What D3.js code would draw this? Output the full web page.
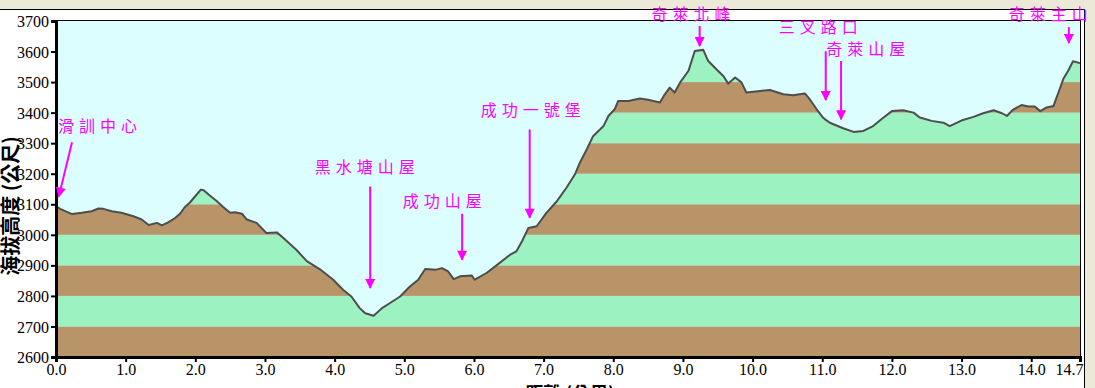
<!DOCTYPE html>
<html>
<head>
<meta charset="utf-8">
<script src="https://cdn.jsdelivr.net/npm/d3@7"></script>
<style>
  body { margin: 0; background: #ece9d8; }
  svg { display: block; }
</style>
</head>
<body>
<div id="chart"></div>
<script>
// distance (km) and elevation (m)
const distance = [0.00, 0.06, 0.23, 0.37, 0.51, 0.61, 0.68, 0.80, 0.94, 1.11, 1.23, 1.33, 1.45, 1.52, 1.61, 1.71, 1.78, 1.85, 1.92, 2.02,
  2.08, 2.12, 2.19, 2.31, 2.40, 2.50, 2.57, 2.67, 2.74, 2.88, 3.02, 3.17, 3.26, 3.45, 3.60, 3.79, 3.98, 4.12, 4.24, 4.36,
  4.44, 4.56, 4.68, 4.79, 4.94, 5.08, 5.20, 5.30, 5.46, 5.54, 5.63, 5.71, 5.80, 5.97, 6.01, 6.18, 6.37, 6.52, 6.61, 6.69,
  6.78, 6.90, 7.04, 7.19, 7.24, 7.33, 7.45, 7.52, 7.62, 7.71, 7.86, 7.93, 8.02, 8.07, 8.22, 8.38, 8.50, 8.67, 8.74, 8.81,
  8.88, 8.96, 9.08, 9.17, 9.29, 9.36, 9.48, 9.58, 9.65, 9.75, 9.84, 9.91, 10.11, 10.25, 10.44, 10.58, 10.75, 10.82, 10.92, 11.01,
  11.04, 11.11, 11.16, 11.30, 11.45, 11.59, 11.73, 11.88, 12.00, 12.16, 12.31, 12.40, 12.57, 12.74, 12.83, 13.02, 13.17, 13.31, 13.46, 13.58,
  13.65, 13.73, 13.86, 13.96, 14.05, 14.13, 14.22, 14.32, 14.39, 14.46, 14.53, 14.60, 14.70];
const elevation = [3093, 3085, 3068, 3072, 3077, 3086, 3085, 3077, 3072, 3061, 3050, 3032, 3039, 3031, 3041, 3055, 3069, 3091, 3105, 3132,
  3148, 3146, 3132, 3110, 3091, 3072, 3074, 3069, 3050, 3039, 3006, 3008, 2990, 2951, 2914, 2887, 2853, 2820, 2798, 2760,
  2743, 2735, 2760, 2776, 2798, 2831, 2853, 2888, 2886, 2891, 2880, 2855, 2864, 2867, 2853, 2875, 2908, 2935, 2946, 2979,
  3022, 3028, 3072, 3110, 3126, 3155, 3198, 3236, 3280, 3323, 3356, 3389, 3411, 3438, 3438, 3446, 3442, 3433, 3460, 3482,
  3466, 3499, 3537, 3602, 3606, 3570, 3542, 3520, 3495, 3515, 3499, 3466, 3471, 3474, 3460, 3457, 3463, 3444, 3411, 3384,
  3378, 3367, 3362, 3349, 3337, 3340, 3356, 3384, 3405, 3408, 3400, 3384, 3373, 3367, 3356, 3376, 3386, 3398, 3408, 3398,
  3389, 3408, 3425, 3420, 3420, 3405, 3417, 3422, 3466, 3510, 3537, 3568, 3562];

const xTicks = [0, 1, 2, 3, 4, 5, 6, 7, 8, 9, 10, 11, 12, 13, 14, 14.7];
const yTicks = [2600, 2700, 2800, 2900, 3000, 3100, 3200, 3300, 3400, 3500, 3600, 3700];

// landmarks: label, arrow distance, arrow start / tip elevation, label distance / elevation
const placeNames = ["滑訓中心", "黑水塘山屋", "成功山屋", "成功一號堡", "奇萊北峰", "三叉路口", "奇萊山屋", "奇萊主山"];
const arrowFromDist = [0.23, 4.51, 5.83, 6.80, 9.24, 11.05, 11.27, 14.54];
const arrowToDist = [0.04, 4.51, 5.83, 6.80, 9.24, 11.05, 11.27, 14.54];
const arrowFromElev = [3303, 3158, 3069, 3345, 3684, 3601, 3569, 3680];
const arrowToElev = [3125, 2826, 2918, 3056, 3618, 3441, 3378, 3628];
const labelDist = [0.03, 4.47, 5.58, 6.85, 9.15, 10.98, 11.66, 14.28];
const labelElev = [3335, 3201, 3092, 3388, 3703, 3661, 3588, 3703];

const width = 1095,
  height = 388;
const plotLeft = 56, plotRight = 1080, plotTop = 21, plotBottom = 357;

const x = d3.scaleLinear().domain([0, 14.7]).range([plotLeft, plotRight]);
const y = d3.scaleLinear().domain([2600, 3700]).range([plotBottom, plotTop]);

const svg = d3
  .select("#chart")
  .append("svg")
  .attr("width", width)
  .attr("height", height);

// window frame
svg.append("rect").attr("width", width).attr("height", height).attr("fill", "#ece9d8");
svg.append("rect").attr("x", 0).attr("y", 9).attr("width", 1085).attr("height", height - 9).attr("fill", "#fff");
svg.append("path").attr("d", "M0,9.5H1084.5V388").attr("fill", "none").attr("stroke", "#000").attr("stroke-width", 1);

const defs = svg.append("defs");
const profile = distance.map((d, i) => [d, elevation[i]]);

const area = d3.area().x(d => x(d[0])).y0(y(2600)).y1(d => y(d[1]));
const line = d3.line().x(d => x(d[0])).y(d => y(d[1]));

defs.append("clipPath").attr("id", "ground").append("path").attr("d", area(profile));

// sky
svg.append("rect")
  .attr("x", plotLeft).attr("y", plotTop)
  .attr("width", plotRight - plotLeft).attr("height", plotBottom - plotTop)
  .attr("fill", "#dcfefe");

// coloured elevation bands under the profile
const bands = yTicks.slice(0, -1);
svg.append("g")
  .attr("clip-path", "url(#ground)")
  .selectAll("rect")
  .data(bands)
  .enter()
  .append("rect")
  .attr("x", plotLeft)
  .attr("width", plotRight - plotLeft)
  .attr("y", d => y(d + 100))
  .attr("height", d => y(d) - y(d + 100))
  .attr("fill", d => ((d - 2600) / 100) % 2 === 0 ? "#b89468" : "#9cf2c0");

svg.append("path")
  .attr("d", line(profile))
  .attr("fill", "none")
  .attr("stroke", "#4d4d4d")
  .attr("stroke-width", 2)
  .attr("stroke-linejoin", "round");

// frame lines of plot
svg.append("line").attr("x1", plotLeft).attr("x2", plotRight + 1).attr("y1", 20.5).attr("y2", 20.5).attr("stroke", "#000");
svg.append("line").attr("x1", plotRight + 0.5).attr("x2", plotRight + 0.5).attr("y1", 20).attr("y2", plotBottom).attr("stroke", "#000");

// axes
const yAxis = svg.append("g")
  .attr("transform", `translate(${plotLeft},0)`)
  .call(d3.axisLeft(y).tickValues(yTicks).tickFormat(d3.format("d")).tickSize(5).tickPadding(2));
const xAxis = svg.append("g")
  .attr("transform", `translate(0,${plotBottom})`)
  .call(d3.axisBottom(x).tickValues(xTicks).tickFormat(d3.format(".1f")).tickSize(5).tickPadding(2));

[yAxis, xAxis].forEach(g => {
  g.select(".domain").attr("stroke", "#000").attr("stroke-width", 3);
  g.selectAll(".tick line").attr("stroke", "#000").attr("stroke-width", 2);
  g.selectAll("text")
    .attr("fill", "#000")
    .style("font-family", "'Liberation Serif', 'DejaVu Serif', serif")
    .style("font-size", "16px");
});
yAxis.selectAll("text").attr("dy", "0.35em");
// last distance label sits left of its tick so it stays inside the frame
xAxis.selectAll(".tick text").filter(d => d === 14.7).attr("text-anchor", "end").attr("dx", 3);

// axis titles (partly clipped by window edge, as in the source)
svg.append("text")
  .attr("transform", "translate(18,206) rotate(-90)")
  .attr("text-anchor", "middle")
  .style("font-family", "'Noto Sans CJK TC', sans-serif")
  .style("font-size", "20px")
  .style("font-weight", "bold")
  .text("海拔高度 (公尺)");

svg.append("text")
  .attr("x", 570)
  .attr("y", 400)
  .attr("text-anchor", "middle")
  .style("font-family", "'Noto Sans CJK TC', sans-serif")
  .style("font-size", "18px")
  .style("font-weight", "bold")
  .text("距離 (公里)");

// landmark annotations
const magenta = "#ff00ff";
defs.append("marker")
  .attr("id", "head")
  .attr("viewBox", "0 0 10 10")
  .attr("refX", 9).attr("refY", 5)
  .attr("markerWidth", 6).attr("markerHeight", 5)
  .attr("markerUnits", "strokeWidth")
  .attr("orient", "auto")
  .append("path")
  .attr("d", "M0,0L10,5L0,10Z")
  .attr("fill", magenta);

const notes = svg.append("g").selectAll("g").data(placeNames).enter().append("g");

notes.append("line")
  .attr("x1", (d, i) => x(arrowFromDist[i]))
  .attr("y1", (d, i) => y(arrowFromElev[i]))
  .attr("x2", (d, i) => x(arrowToDist[i]))
  .attr("y2", (d, i) => y(arrowToElev[i]))
  .attr("stroke", magenta)
  .attr("stroke-width", 2)
  .attr("marker-end", "url(#head)");

notes.append("text")
  .attr("x", (d, i) => x(labelDist[i]))
  .attr("y", (d, i) => y(labelElev[i]))
  .attr("text-anchor", (d, i) => i === 0 ? "start" : "middle")
  .attr("fill", magenta)
  .style("font-family", "'Noto Sans CJK TC', sans-serif")
  .style("font-size", "16px")
  .style("letter-spacing", "5px")
  .text(d => d);
</script>
</body>
</html>
